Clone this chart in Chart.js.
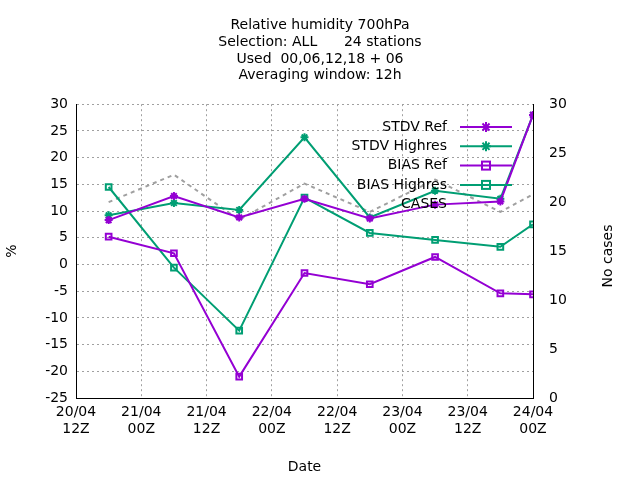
<!DOCTYPE html>
<html><head><meta charset="utf-8">
<script src="https://cdn.jsdelivr.net/npm/chart.js@4/dist/chart.umd.min.js"></script>
<style>body{margin:0;background:#fff}#wrap{width:640px;height:480px}</style>
</head><body><div id="wrap"><canvas id="c"></canvas></div>
<script>
// hours since 20/04 12Z
const hours = [6, 18, 30, 42, 54, 66, 78, 84];
const tickLabels = [['20/04','12Z'],['21/04','00Z'],['21/04','12Z'],['22/04','00Z'],['22/04','12Z'],['23/04','00Z'],['23/04','12Z'],['24/04','00Z']];
const stdvRef = [8.3, 12.8, 8.8, 12.3, 8.6, 11.2, 11.8, 28];
const stdvHigh = [9.2, 11.5, 10.2, 23.8, 8.8, 13.8, 12.3, 28];
const biasRef = [5.2, 2.1, -21, -1.6, -3.7, 1.4, -5.4, -5.6];
const biasHigh = [14.5, -0.6, -12.4, 12.5, 5.9, 4.6, 3.3, 7.5];
const cases = [20, 22.8, 18.2, 21.9, 19, 22.3, 19, 20.8];

const purple = '#9400d3', green = '#009e73';
const pts = arr => arr.map((v, i) => ({x: hours[i], y: v}));
const font = {family: 'DejaVu Sans', size: 14};

function ds(label, data, color, style, axis) {
    return {label, data: pts(data), borderColor: color, backgroundColor: 'rgba(0,0,0,0)',
        pointStyle: style, pointRadius: 4, pointBorderColor: color, pointBorderWidth: 2,
        borderWidth: 2, yAxisID: axis || 'y'};
}
const datasets = [
    ds('STDV Ref', stdvRef, purple, 'star'),
    ds('STDV Highres', stdvHigh, green, 'star'),
    ds('BIAS Ref', biasRef, purple, 'rect'),
    ds('BIAS Highres', biasHigh, green, 'rect'),
    {label: 'CASES', data: pts(cases), borderColor: '#a0a0a0', borderDash: [4, 4], borderWidth: 2,
        pointRadius: 0, yAxisID: 'y2'}
];

// gnuplot style key: text right-aligned, sample on the right; plus right axis title
const keyPlugin = {
    id: 'key',
    afterDatasetsDraw(chart) {
        const c = chart.ctx;
        c.save();
        c.font = '14px DejaVu Sans';
        c.textAlign = 'right';
        c.textBaseline = 'middle';
        chart.data.datasets.forEach((d, i) => {
            const y = 127 + i * 19.3;
            c.fillStyle = '#000';
            c.fillText(d.label, 447, y);
            if (d.label === 'CASES') return;
            c.strokeStyle = d.borderColor;
            c.lineWidth = 2;
            c.beginPath(); c.moveTo(460, y); c.lineTo(512, y); c.stroke();
            c.beginPath();
            if (d.pointStyle === 'rect') {
                c.strokeRect(482, y - 4, 8, 8);
            } else {
                for (let a = 0; a < 4; a++) {
                    const t = a * Math.PI / 4;
                    c.moveTo(486 - 5 * Math.cos(t), y - 5 * Math.sin(t));
                    c.lineTo(486 + 5 * Math.cos(t), y + 5 * Math.sin(t));
                }
                c.stroke();
            }
        });
        c.translate(608, 256);
        c.rotate(-Math.PI / 2);
        c.textAlign = 'center';
        c.fillText('No cases', 0, 0);
        c.restore();
    }
};

const grid = {color: '#a0a0a0', drawTicks: false};
const dotted = {color: '#000', dash: [2, 3]};
new Chart(document.getElementById('c'), {
    type: 'line',
    data: {datasets},
    plugins: [keyPlugin],
    options: {
        responsive: true, maintainAspectRatio: false, animation: false,
        plugins: {
            legend: {display: false},
            title: {display: true, color: '#000', font: {family: 'DejaVu Sans', size: 14, weight: 'normal'},
                lineHeight: 1.36, padding: {top: 17, bottom: 20},
                text: ['Relative humidity 700hPa', 'Selection: ALL      24 stations', 'Used  00,06,12,18 + 06', 'Averaging window: 12h']}
        },
        scales: {
            x: {type: 'linear', min: 0, max: 84, border: dotted, grid,
                ticks: {stepSize: 12, color: '#000', font, padding: 6,
                    callback: v => tickLabels[v / 12] || ''},
                title: {display: true, text: 'Date', color: '#000', font, padding: {top: 12}},
                afterFit: s => { s.height = 82; }},
            y: {position: 'left', min: -25, max: 30, border: dotted, grid,
                ticks: {stepSize: 5, color: '#000', font, padding: 8},
                title: {display: true, text: '%', color: '#000', font},
                afterFit: s => { s.width = 76; }},
            y2: {position: 'right', min: 0, max: 30, border: {color: '#000'}, grid: {display: false},
                ticks: {stepSize: 5, color: '#000', font, padding: 8},
                afterFit: s => { s.width = 107; }}
        }
    }
});
</script></body></html>
